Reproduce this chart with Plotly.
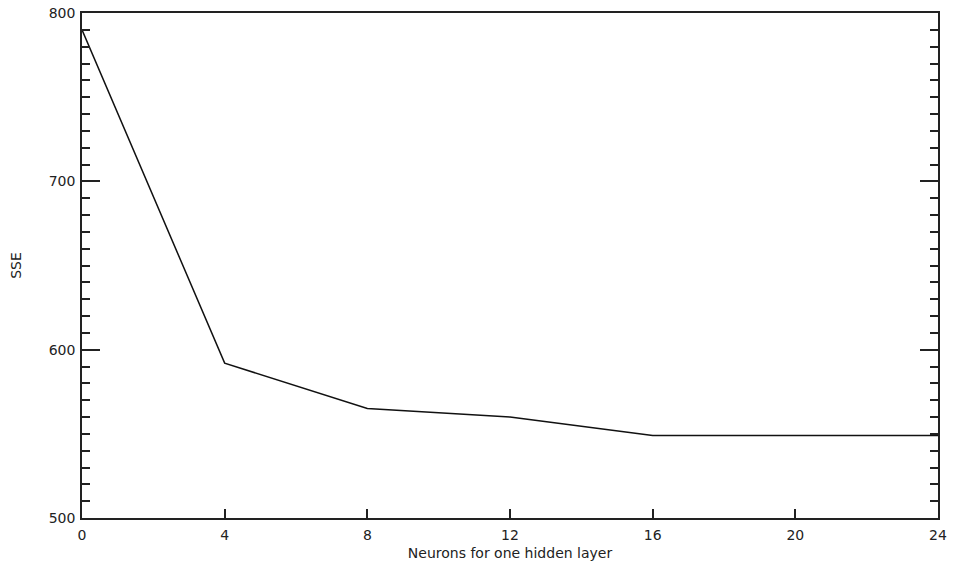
import plotly.graph_objects as go

neurons = [0, 4, 8, 12, 16, 20, 24]
sse = [790, 592, 565, 560, 549, 549, 549]
x_ticks = [0, 4, 8, 12, 16, 20, 24]
y_ticks = [500, 600, 700, 800]

fig = go.Figure()
fig.add_trace(go.Scatter(x=neurons, y=sse, mode="lines",
                         line=dict(color="#111111", width=1.5),
                         showlegend=False, hoverinfo="skip", cliponaxis=False))

font = dict(family="DejaVu Sans", size=14, color="#222222")
fig.update_layout(
    width=954, height=573,
    margin=dict(l=82, r=16, t=13, b=55, autoexpand=False),
    paper_bgcolor="white", plot_bgcolor="white",
    font=font,
    xaxis=dict(range=[0, 24], tickvals=x_ticks, ticktext=[str(v) for v in x_ticks],
               ticks="inside", ticklen=9, tickwidth=1.5, tickcolor="#222222",
               showline=True, linecolor="#222222", linewidth=1.5, mirror=True,
               showgrid=False, zeroline=False, automargin=False, ticklabelstandoff=3,
               title=dict(text="Neurons for one hidden layer", standoff=7, font=font)),
    yaxis=dict(range=[500, 800], tickvals=y_ticks,
               ticks="inside", ticklen=18, tickwidth=1.5, tickcolor="#222222",
               showline=True, linecolor="#222222", linewidth=1.5, mirror="ticks",
               showgrid=False, zeroline=False, automargin=False, ticklabelstandoff=2,
               minor=dict(dtick=10, ticks="inside", ticklen=8, tickwidth=1.5,
                          tickcolor="#222222", showgrid=False),
               title=dict(text="SSE", standoff=24, font=font)),
)

fig.write_html("out.html", config={"displayModeBar": False},
               post_script="document.body.style.margin='0';document.body.style.overflow='hidden';")
